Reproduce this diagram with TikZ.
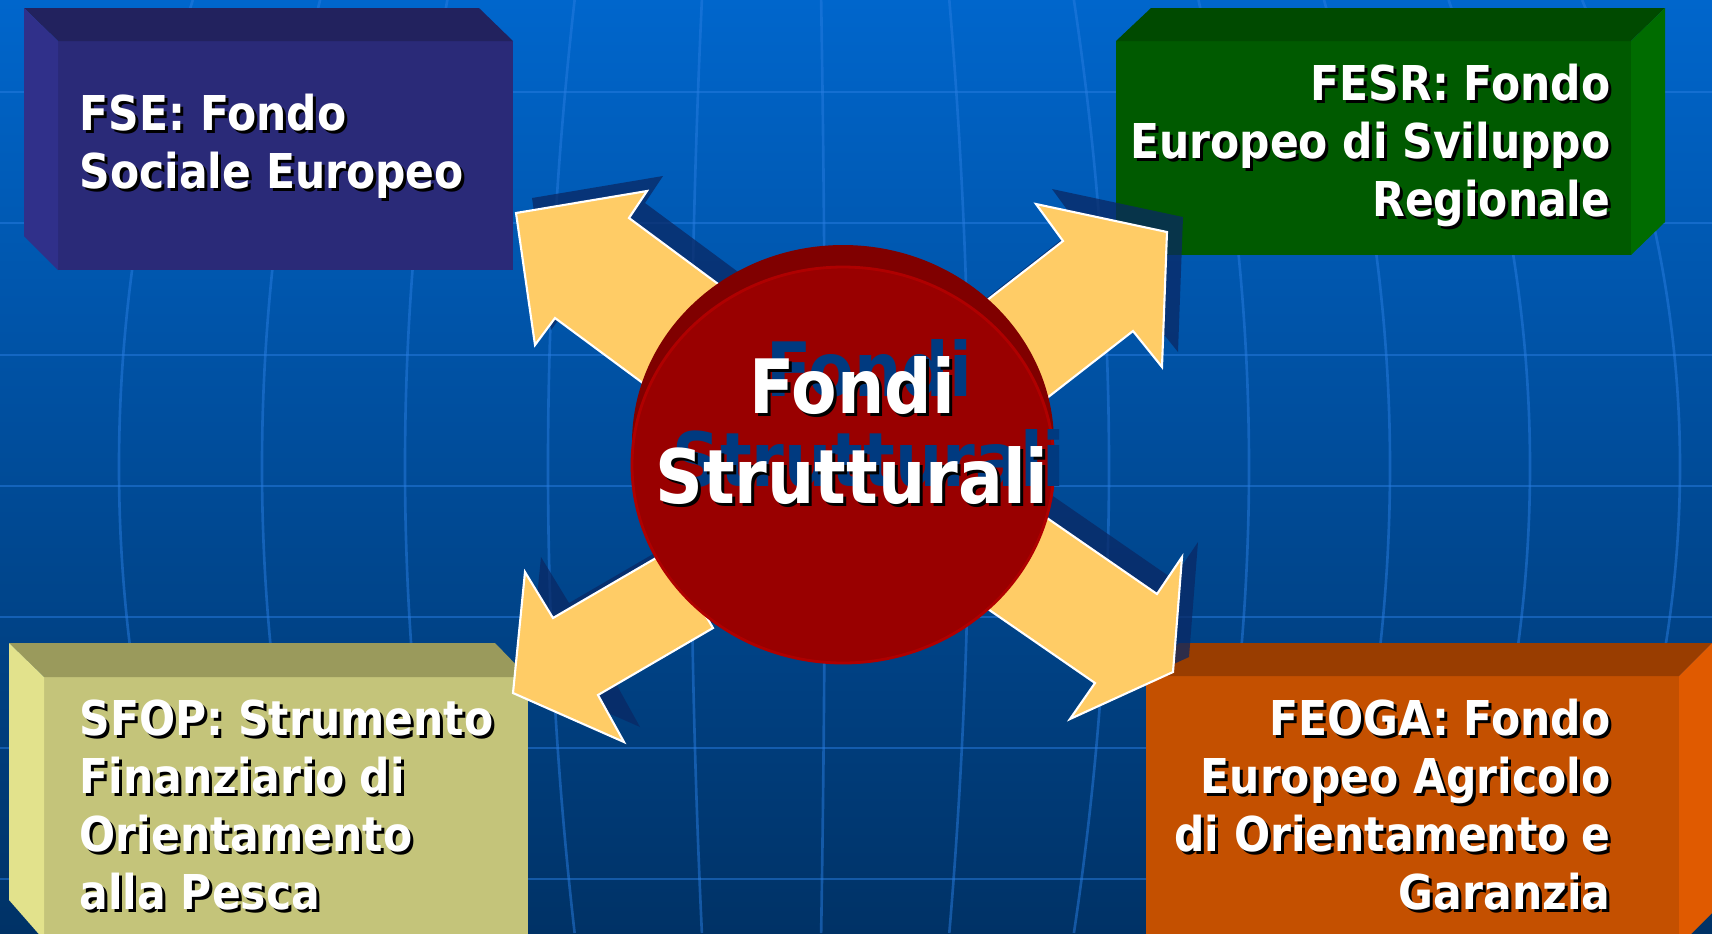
\documentclass[tikz,border=0pt]{standalone}
\usepackage{fontspec}
\usetikzlibrary{calc}
\usetikzlibrary{shapes.geometric}
\newfontfamily\slidefont{DejaVu Sans}[FakeStretch=0.885]
\definecolor{bgtop}{RGB}{0,102,204}
\definecolor{bgbottom}{RGB}{0,50,102}
\definecolor{gridblue}{RGB}{40,125,225}
\definecolor{fsefront}{RGB}{42,42,120}
\definecolor{fsetop}{RGB}{34,34,94}
\definecolor{fseside}{RGB}{48,48,138}
\definecolor{fesrfront}{RGB}{0,90,0}
\definecolor{fesrtop}{RGB}{0,74,0}
\definecolor{fesrside}{RGB}{0,108,0}
\definecolor{sfopfront}{RGB}{196,196,122}
\definecolor{sfoptop}{RGB}{154,154,92}
\definecolor{sfopside}{RGB}{226,226,140}
\definecolor{feogafront}{RGB}{196,80,0}
\definecolor{feogatop}{RGB}{153,61,0}
\definecolor{feogaside}{RGB}{224,90,0}
\definecolor{arrowyellow}{RGB}{255,204,102}
\definecolor{shadowblue}{RGB}{10,40,100}
\definecolor{discback}{RGB}{128,0,0}
\definecolor{discfront}{RGB}{153,0,0}
\definecolor{discedge}{RGB}{175,0,0}
\definecolor{ghostblue}{RGB}{0,58,128}
\tikzstyle{gridline} = [draw=gridblue, line width=0.75pt, opacity=0.5]
\tikzstyle{fatarrow} = [fill=arrowyellow, draw=white, line width=0.6pt]
\tikzstyle{arrowshadow} = [fill=shadowblue, opacity=0.75]
\tikzstyle{disc} = [ellipse, inner sep=0pt, minimum width=42.2mm, minimum height=39.6mm]
\tikzstyle{boxtext} = [text=white, inner sep=0pt, font=\slidefont\bfseries\fontsize{13.66}{16.5}\selectfont]
\tikzstyle{bigtext} = [text=white, inner sep=0pt, align=center, font=\slidefont\bfseries\fontsize{21.34}{25.6}\selectfont]
\def\shadowtext(#1)(#2)[#3]#4{ \node[#3, text=black] at ($(#2)+(3,3)$) {#4}; \node[#3] (#1) at (#2) {#4}; }
\def\blockarrow(#1)(#2)(#3)(#4)(#5)(#6)(#7){
  \fill[arrowshadow, shift={(16,-15)}] (#1) -- (#2) -- (#3) -- (#4) -- (#5) -- (#6) -- (#7) -- cycle;
  \filldraw[fatarrow] (#1) -- (#2) -- (#3) -- (#4) -- (#5) -- (#6) -- (#7) -- cycle; }

\begin{document}
\begin{tikzpicture}[x=0.1mm, y=-0.1mm]
            \useasboundingbox (0,0) rectangle (1712,933);
            \shade[top color=bgtop, bottom color=bgbottom] (0,0) rectangle (1712,933);
            \foreach \y in {92,223,355,486,617,748,879}
                \draw[gridline] (0,\y) -- (1712,\y);
            \foreach \m in {119,262,405,548,691,825,969,1109,1249,1390,1530,1680}{
                \pgfmathsetmacro\bow{0.11*(\m-790)}
                \pgfmathsetmacro\xt{\m-\bow}
                \pgfmathsetmacro\ctl{4/3*\bow}
                \draw[gridline] (\xt,0) .. controls +(\ctl,311) and +(\ctl,-311) .. (\xt,933);
            }

            \fill[fsefront] (58,41) rectangle (513,270);
            \fill[fsetop] (24,8) -- (479,8) -- (513,41) -- (58,41) -- cycle;
            \fill[fseside] (24,8) -- (58,41) -- (58,270) -- (24,236) -- cycle;

            \fill[fesrfront] (1116,41) rectangle (1631,255);
            \fill[fesrtop] (1151,8) -- (1665,8) -- (1631,41) -- (1116,41) -- cycle;
            \fill[fesrside] (1631,41) -- (1665,8) -- (1665,222) -- (1631,255) -- cycle;

            \fill[sfopfront] (44,677) rectangle (528,940);
            \fill[sfoptop] (9,643) -- (495,643) -- (528,677) -- (44,677) -- cycle;
            \fill[sfopside] (9,643) -- (44,677) -- (44,940) -- (9,900) -- cycle;

            \fill[feogafront] (1146,676) rectangle (1679,940);
            \fill[feogatop] (1146,676) -- (1179,643) -- (1712,643) -- (1679,676) -- cycle;
            \fill[feogaside] (1679,676) -- (1712,643) -- (1712,913) -- (1679,946) -- cycle;

            \blockarrow(814,355)(629,218)(647,191)(516,213)(535,345)(555,318)(740,455);
            \blockarrow(882,382)(1063,241)(1036,204)(1167,232)(1162,367)(1133,331)(952,472);
            \blockarrow(668,551)(553,618)(525,572)(513,693)(624,742)(598,695)(713,628);
            \blockarrow(1034,509)(1157,594)(1182,557)(1173,672)(1070,719)(1095,683)(972,598);

            \node[disc, fill=discback] (back) at (843,443) {};
            \node[disc, fill=discfront, draw=discedge, line width=0.8pt] (fondi) at (843,465) {};

            \node[bigtext, anchor=north, text=ghostblue] (ghost) at (869,339) {Fondi\\Strutturali};
            \shadowtext(title)(852,356)[bigtext, anchor=north]{Fondi\\Strutturali};

            \shadowtext(fse)(79,93)[boxtext, anchor=north west, align=left]{FSE: Fondo\\Sociale Europeo};
            \shadowtext(fesr)(1611,63)[boxtext, anchor=north east, align=right]{FESR: Fondo\\Europeo di Sviluppo\\Regionale};
            \shadowtext(sfop)(79,699)[boxtext, anchor=north west, align=left]{SFOP: Strumento\\Finanziario di\\Orientamento\\alla Pesca};
            \shadowtext(feoga)(1611,698)[boxtext, anchor=north east, align=right]{FEOGA: Fondo\\Europeo Agricolo\\di Orientamento e\\Garanzia};
        \end{tikzpicture}
\end{document}
